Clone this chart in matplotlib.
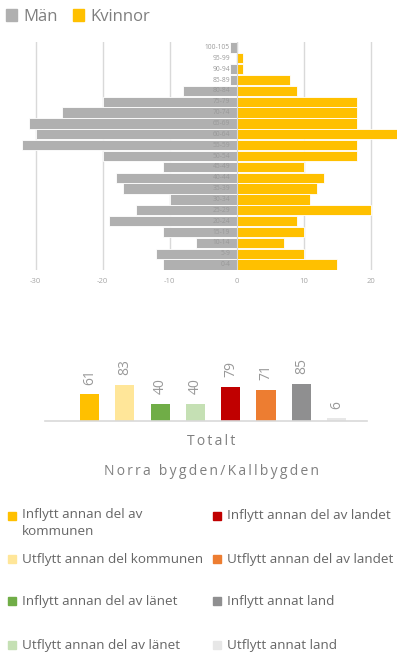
import matplotlib
matplotlib.use("Agg")
import matplotlib.pyplot as plt
from matplotlib.patches import Rectangle
import numpy as np

plt.rcParams['font.family'] = ['Open Sans', 'DejaVu Sans']
plt.rcParams['axes.unicode_minus'] = False

# Population pyramid data (youngest first)
age_groups = ["0-4", "5-9", "10-14", "15-19", "20-24", "25-29", "30-34", "35-39",
              "40-44", "45-49", "50-54", "55-59", "60-64", "65-69", "70-74",
              "75-79", "80-84", "85-89", "90-94", "95-99", "100-105"]
men = [11, 12, 6, 11, 19, 15, 10, 17, 18, 11, 20, 32, 30, 31, 26, 20, 8, 1, 1, 0, 1]
women = [15, 10, 7, 10, 9, 20, 11, 12, 13, 10, 18, 18, 24, 18, 18, 18, 9, 8, 1, 1, 0]
pyramid_ticks = [-30, -20, -10, 0, 10, 20]

# Migration totals
migration_labels = ["Inflytt annan del av\nkommunen", "Utflytt annan del kommunen",
                    "Inflytt annan del av länet", "Utflytt annan del av länet",
                    "Inflytt annan del av landet", "Utflytt annan del av landet",
                    "Inflytt annat land", "Utflytt annat land"]
migration_values = [61, 83, 40, 40, 79, 71, 85, 6]
migration_colors = ["#FFC000", "#FFE699", "#70AD47", "#C5E0B4",
                    "#C00000", "#ED7D31", "#8F8F90", "#E7E7E7"]
category_title = "Totalt"
area_title = "Norra bygden/Kallbygden"

W, H = 397, 654
fig = plt.figure(figsize=(W / 100, H / 100), dpi=100)

def fx(px):
    return px / W

def fy(py):
    return 1 - py / H

MEN_C = "#B0B0B0"
WOMEN_C = "#FFC000"
TXT = "#7F7F7F"

# ---- Pyramid ----
ax = fig.add_axes([0, fy(270), 1, (270 - 42) / H])
y = np.arange(len(age_groups))
ax.barh(y, [-m for m in men], height=0.94, color=MEN_C, edgecolor="white", linewidth=0.6, zorder=2)
ax.barh(y, women, height=0.94, color=WOMEN_C, edgecolor="white", linewidth=0.6, zorder=2)
ax.set_xlim(-35.3, 23.9)
ax.set_ylim(-0.5, len(age_groups) - 0.5)
ax.set_xticks(pyramid_ticks)
ax.set_xticklabels([str(t) for t in pyramid_ticks])
ax.tick_params(axis="x", length=0, labelsize=5.5, labelcolor="#A6A6A6", pad=6)
ax.set_yticks([])
ax.grid(axis="x", color="#D9D9D9", linewidth=1, zorder=0)
for s in ax.spines.values():
    s.set_visible(False)
ax.axvline(0, color="#D9D9D9", linewidth=0.8, zorder=3)
for yi, lab in zip(y, age_groups):
    ax.text(-1.0, yi, lab, ha="right", va="center", fontsize=4.8, color="#999999", zorder=4)

# top legend
fig.legend(handles=[Rectangle((0, 0), 1, 1, color=MEN_C), Rectangle((0, 0), 1, 1, color=WOMEN_C)],
           labels=["Män", "Kvinnor"], loc="upper left", bbox_to_anchor=(fx(-1), fy(2)),
           ncol=2, frameon=False, fontsize=12, labelcolor=TXT, handlelength=0.7,
           handleheight=0.7, handletextpad=0.35, columnspacing=0.9, borderaxespad=0)

# ---- Migration bars ----
bx = fig.add_axes([fx(45), fy(421), (367 - 45) / W, 60 / H])
xpos = np.arange(len(migration_values))
bx.bar(xpos, migration_values, width=0.54, color=migration_colors, zorder=2)
bx.set_xlim(-1.26, 7.86)
bx.set_ylim(0, 138)
for sname in ["top", "right", "left"]:
    bx.spines[sname].set_visible(False)
bx.spines["bottom"].set_color("#D9D9D9")
bx.spines["bottom"].set_linewidth(1.2)
bx.set_xticks([])
bx.set_yticks([])
for xi, v in zip(xpos, migration_values):
    bx.annotate(str(v), (xi, v), xytext=(0, 7), textcoords="offset points",
                ha="center", va="bottom", rotation=90, fontsize=10, color="#999999",
                annotation_clip=False)

thin = "\u2009"
fig.text(fx(211.5), fy(441.5), thin.join(category_title), ha="center", va="center",
         fontsize=10, color=TXT)
fig.text(fx(211), fy(471.5), thin.join(area_title), ha="center", va="center",
         fontsize=10, color=TXT)

# ---- Bottom legend (left column: series 0-3, right column: series 4-7) ----
row_centers = [516, 559, 601, 645]
sq = 8
for i, (lab, col) in enumerate(zip(migration_labels, migration_colors)):
    if i < 4:
        sx, tx, cy = 8, 21.5, row_centers[i]
    else:
        sx, tx, cy = 213.5, 227, row_centers[i - 4]
    fig.patches.append(Rectangle((fx(sx), fy(cy + sq / 2)), sq / W, sq / H,
                                 transform=fig.transFigure, color=col, figure=fig))
    if "\n" in lab:
        fig.text(fx(tx), fy(cy - 8), lab, ha="left", va="top",
                 fontsize=9.7, color="#666666", linespacing=1.4)
    else:
        fig.text(fx(tx), fy(cy), lab, ha="left", va="center",
                 fontsize=9.7, color="#666666")

fig.savefig("out.png", dpi=100)
